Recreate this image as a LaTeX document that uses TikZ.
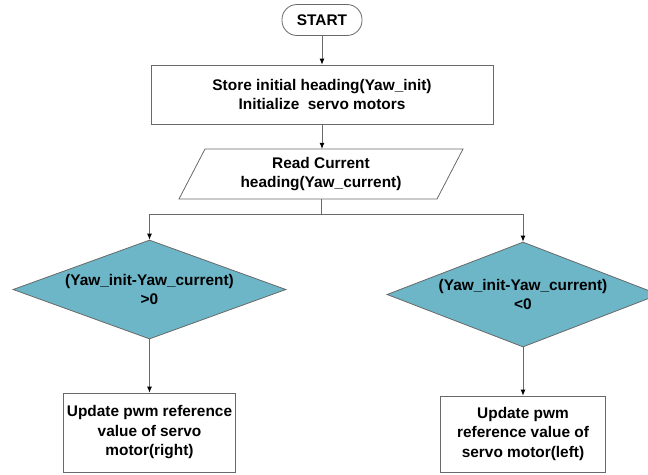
\documentclass[tikz,border=0pt]{standalone}
\usepackage{fontspec}
\setmainfont{Liberation Sans}
\usetikzlibrary{shapes.geometric,arrows.meta}
\definecolor{lc}{RGB}{105,105,105}
\definecolor{dfill}{RGB}{108,182,200}
\begin{document}
\begin{tikzpicture}[x=1pt,y=-1pt,
  every node/.style={font=\fontsize{15.4}{19.5}\selectfont\bfseries, align=center, text=black},
  procbox/.style={draw=lc, line width=0.8pt, fill=white, rectangle, inner sep=0pt},
  startbox/.style={draw=lc, line width=0.8pt, fill=white, rectangle, rounded corners=15pt, inner sep=0pt, minimum width=80pt, minimum height=31pt},
  decbox/.style={draw=lc, line width=0.8pt, fill=dfill, diamond, inner sep=0pt},
  conn/.style={draw=lc, line width=0.8pt},
  arr/.style={conn, -{Latex[length=6pt,width=5pt,color=black]}}]
\useasboundingbox (0,0) rectangle (648,474);
\fill[white] (0,0) rectangle (648,474);

\node[startbox] (start) at (322,20) {START};
\node[procbox, minimum width=342pt, minimum height=59pt] (init) at (322,94.5)
  {Store initial heading(Yaw\_init)\\Initialize~ servo motors};
\draw[conn, fill=white] (205,149) -- (463,149) -- (437,199) -- (179,199) -- cycle;
\node[inner sep=0pt, minimum width=258pt, minimum height=50pt] (read) at (321,174)
  {Read Current\\heading(Yaw\_current)};

\node[decbox, minimum width=273pt, minimum height=99pt] (d1) at (149.5,289.5) {};
\node (d1t) at (d1.center) {(Yaw\_init-Yaw\_current)\\>0};
\node[decbox, minimum width=272pt, minimum height=105pt] (d2) at (523,294.5) {};
\node (d2t) at (d2.center) {(Yaw\_init-Yaw\_current)\\<0};

\node[procbox, minimum width=172pt, minimum height=79pt] (b1) at (149.5,432.5)
  {Update pwm reference\\value of servo\\motor(right)};
\node[procbox, minimum width=165pt, minimum height=76pt] (b2) at (523,434)
  {Update pwm\\reference value of\\servo motor(left)};

\coordinate (split) at (321,214);
\draw[arr] (start.south) -- (init.north);
\draw[arr] (init.south) -- (init.south |- read.north);
\draw[conn] (read.south) -- (split);
\draw[arr] (split) -| (d1.north);
\draw[arr] (split) -| (d2.north);
\draw[arr] (d1.south) -- (b1.north);
\draw[arr] (d2.south) -- (b2.north);
\end{tikzpicture}
\end{document}
